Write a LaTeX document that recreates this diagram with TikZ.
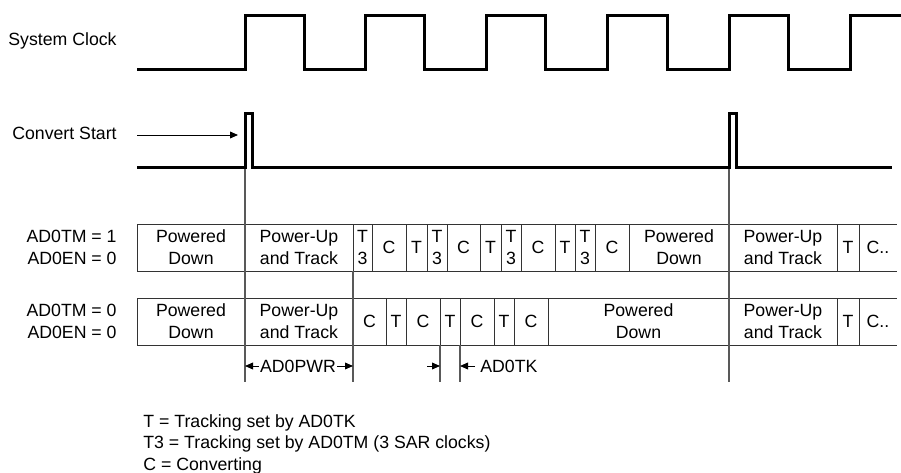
\documentclass[tikz,border=0pt]{standalone}
\usepackage{fontspec}
\setmainfont{Liberation Sans}
\usetikzlibrary{arrows.meta, positioning}

\begin{document}
\begin{tikzpicture}[
    x=0.5pt, y=-0.5pt,
    font=\fontsize{8.85pt}{11pt}\selectfont,
    wave/.style={line width=1.5pt, black},
    cell/.style={rectangle, draw=black!80, line width=0.5pt, inner sep=0pt, outer sep=0pt, minimum height=23.5pt, align=center},
    opencell/.style={rectangle, inner sep=0pt, outer sep=0pt, minimum height=23.5pt, minimum width=19pt, align=center},
    cellline/.style={draw=black!80, line width=0.5pt},
    marker/.style={black!65, line width=0.65pt},
    tip/.style={-{Triangle[length=4pt, width=3.4pt]}, line width=0.5pt},
    siglabel/.style={anchor=east, align=right, inner sep=0pt}
]
\path[use as bounding box, fill=white] (0,0) rectangle (901,472);

% Signal names
\node[siglabel] (clk) at (117,41) {System Clock};
\node[siglabel] (cvt) at (117,133) {Convert Start};
\node[siglabel] (mode1) at (117,247.5) {AD0TM = 1\\AD0EN = 0};
\node[siglabel] (mode2) at (117,321.5) {AD0TM = 0\\AD0EN = 0};

% Helper coordinates
\coordinate (cvta) at (245,167);
\coordinate (cvtb) at (729,167);
\coordinate (bot) at (0,382);
\coordinate (dim) at (0,366);
\coordinate (cvtin) at (137,135);
\coordinate (r1-0) at (137,247.5);
\coordinate (r2-0) at (137,321.5);

% Row 1: AD0TM = 1
\foreach \w/\t [count=\i, remember=\i as \j (initially 0)] in {108/{Powered\\Down}, 108/{Power-Up\\and Track}, 19/{T\\3}, 34/C, 21/T, 20/{T\\3}, 33/C, 21/T, 20/{T\\3}, 34/C, 20/T, 20/{T\\3}, 34/C, 100/{Powered\\Down}, 108/{Power-Up\\and Track}, 22/T}
  \node[cell, minimum width=\w*0.5pt, right=0pt of r1-\j] (r1-\i) {\t};
\node[opencell, right=0pt of r1-16] (r1-17) {C..};
\draw[cellline] (r1-17.north west) -- (r1-17.north east) (r1-17.south west) -- (r1-17.south east);

% Row 2: AD0TM = 0
\foreach \w/\t [count=\i, remember=\i as \j (initially 0)] in {108/{Powered\\Down}, 108/{Power-Up\\and Track}, 33/C, 20/T, 34/C, 20/T, 34/C, 20/T, 34/C, 181/{Powered\\Down}, 108/{Power-Up\\and Track}, 22/T}
  \node[cell, minimum width=\w*0.5pt, right=0pt of r2-\j] (r2-\i) {\t};
\node[opencell, right=0pt of r2-12] (r2-13) {C..};
\draw[cellline] (r2-13.north west) -- (r2-13.north east) (r2-13.south west) -- (r2-13.south east);

% Marker lines
\draw[marker] (cvta) -- (cvta |- bot);
\draw[marker] (cvtb) -- (cvtb |- bot);
\draw[marker] (r1-2.south east) -- (r1-2.south east |- bot);
\draw[marker] (r2-6.south west) -- (r2-6.south west |- bot);
\draw[marker] (r2-6.south east) -- (r2-6.south east |- bot);

% Waveforms
\draw[wave] (137,69) \foreach \r/\f in {245/304, 365/424, 486/545, 607/667, 729/788} { -- (\r,69) -- (\r,15) -- (\f,15) -- (\f,69) } -- (850,69) -- (850,15) -- (901,15);
\draw[wave] (137,167) -- (cvta) -- (245,113) -- (252,113) -- (252,167) -- (cvtb) -- (729,113) -- (736,113) -- (736,167) -- (892,167);
\draw[tip] (cvtin) -- ([xshift=-3.5pt]cvta |- cvtin);

% Timing labels
\node[inner sep=0.5pt] (pwr) at (298,366) {AD0PWR};
\draw[tip] (pwr.west) -- (pwr.west -| r2-2.west);
\draw[tip] (pwr.east) -- (pwr.east -| r2-2.east);
\coordinate (tkin) at (427,366);
\draw[tip] (tkin) -- (tkin -| r2-6.west);
\node[anchor=west, inner sep=0pt] (tk) at (480,366) {AD0TK};
\draw[tip] ([xshift=-2.5pt]tk.west) -- (tk.west -| r2-6.east);

% Legend
\node[anchor=west, align=left, inner sep=0pt, font=\fontsize{8.85pt}{10.75pt}\selectfont] (legend) at (143,444) {T = Tracking set by AD0TK\\T3 = Tracking set by AD0TM (3 SAR clocks)\\C = Converting};
\end{tikzpicture}
\end{document}
